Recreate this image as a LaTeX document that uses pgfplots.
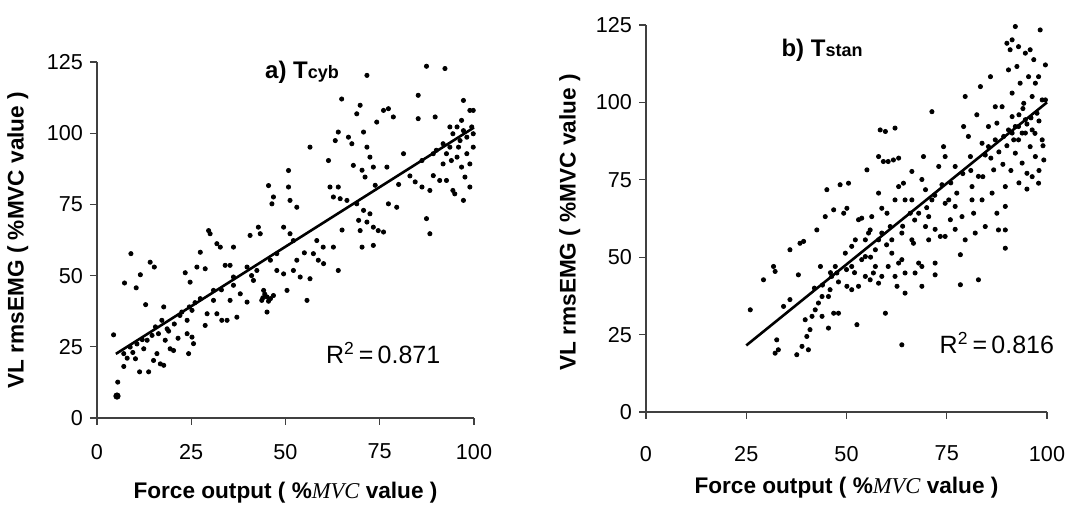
\documentclass[border=0pt]{standalone}
\usepackage{pgfplots}
\pgfplotsset{compat=1.18}
\usepackage{fontspec}
\setmainfont{Liberation Sans}
\newfontfamily\tnr{Liberation Serif}

% shared look for both panels
\pgfplotsset{
  emgaxis/.style={
    scale only axis,
    axis lines=left,
    axis line style={-, draw=black!75, line width=0.6pt},
    xmin=0, xmax=100, ymin=0, ymax=125,
    xtick={0,25,50,75,100}, ytick={0,25,50,75,100,125},
    tick align=outside, major tick length=3.5pt,
    tick style={black!75, line width=0.6pt},
    /pgf/number format/assume math mode=true,
    ticklabel style={font=\fontsize{10.8}{12}\selectfont},
    label style={font=\fontsize{11.3}{13}\selectfont\bfseries},
    xlabel={Force output ( \%{\mdseries\tnr\itshape MVC} value )},
    ylabel={VL rmsEMG ( \%MVC value )},
    clip=false,
  },
  dots/.style={only marks, mark=*, mark size=1.05pt, black},
  fit/.style={no marks, black, line width=1.3pt},
}

\begin{document}
\begin{tikzpicture}
\path[use as bounding box] (0,0) rectangle (543.5pt,253pt);

% ---------- a) Tcyb ----------
\begin{axis}[emgaxis, at={(48.5pt,44pt)}, anchor=south west,
  width=188.5pt, height=178pt,
  xticklabel style={yshift=-6pt},
  x label style={at={(axis description cs:0.5,-0.21)}, anchor=center},
  y label style={at={(axis description cs:-0.21,0.5)}, anchor=center}]
\addplot[dots] coordinates {
(4.4,29.2) (5.5,12.6) (7.3,47.4) (9.0,57.7) (10.4,45.7) (11.5,50.3) (12.9,39.8)
(14.1,54.7) (15.2,53) (7.1,22.6) (7.1,18.1) (10.2,20.8) (11.3,16.2) (13.7,16.2)
(8.8,24.9) (10.6,26) (12.4,24.3) (15,20.2) (15.9,22.6) (16.8,19) (17.7,18.5)
(18.1,27.3) (19.4,24.3) (20.3,23.7) (17.7,39) (17.2,34.3) (18.6,31.3) (15.5,32)
(16.3,29.6) (14.6,29) (13.3,27.3) (23.4,51) (24.7,47.7) (26.5,53) (27.4,58.2)
(28.7,52.4) (29.6,65.8) (30,64.7) (31.8,61.2) (32.7,60) (34,53.6) (35.3,53.6)
(36.2,60) (36.2,46.6) (40.6,64.1) (42.8,67) (43.3,64.7) (22.5,37.2) (23.9,34.3)
(25.2,37.8) (24.3,22.6) (25.6,26.1) (25.2,28.4) (23.9,29.6) (29.2,36.6) (28.7,32.5)
(30.9,41.3) (31.8,36.6) (33.1,34.3) (34.5,34.3) (35.3,41.3) (37.1,35.4) (39.8,40.7)
(38,43.6) (41.5,48.3) (42.4,51.8) (44.2,44.8) (45.1,42.5) (46,41.9) (45.1,37.2)
(43.7,41.3) (46,55.4) (47.7,51.8) (49.5,50.6) (50.4,44.8) (52.1,51.8) (53,55.4)
(53.9,49.5) (55.7,41.3) (56.5,48.9) (57.4,57.7) (58.3,62.3) (58.7,55.4) (60.1,54.2)
(62.7,60) (64,51.8) (45.5,81.6) (46.4,75.2) (46.8,77.6) (50.8,86.9) (50.8,81.1)
(51.2,76.4) (53,74) (49.5,67) (51.2,64.7) (56.5,95.1) (61.4,90.4) (61.8,81.1)
(62.7,77.6) (64,81.1) (64.5,77) (66.3,76.4) (63.2,97.4) (64,100.4) (64.9,112)
(66.7,98.6) (67.6,96.3) (68,88.7) (68.9,106.8) (69.8,109.8) (70.7,100.4) (71.6,120.3)
(71.6,95.1) (72.4,91.6) (70.3,87) (71.1,84.6) (73.3,88.1) (73.8,81.7) (72.4,71.7)
(70.7,72.9) (68.9,75.2) (69.4,69.4) (69.8,65.8) (71.6,68.8) (73.3,67) (74.6,65.8)
(76,65.3) (70.3,60) (73.3,60.6) (74.2,103.9) (76,108) (77.3,108.6) (78.6,105.7)
(76.9,88.1) (79.5,74) (81.3,92.8) (77.3,75.2) (85.2,113.3) (85.2,105.1) (87.4,123.5)
(92.3,122.7) (89.7,105.7) (87.4,70) (88.3,64.7) (84.4,82.9) (86.2,81.1) (88.3,79.9)
(89.2,85.1) (90.9,83.4) (86.2,90.4) (89.2,92.8) (91.8,96.3) (93.6,95.1) (91.8,89.2)
(92.7,83.4) (94.4,79.9) (94.9,78.7) (97.2,76.4) (97.2,111.5) (98.9,108) (99.4,102.2)
(99.8,95.1) (98.9,89.2) (97.6,84.6) (96.7,88.1) (95.5,91.6) (94.4,99.8) (93.6,102.2)
(95.5,102.2) (96.3,97.4) (98.1,98.6) (99.8,99.8) (96.7,104.5) (92.7,92.8) (94,90.4)
(98.1,92.8) (98.9,81.1) (99.8,108) (95.9,95.1) (97.2,100.9) (44.5,43.5) (45.5,41)
(46.8,43) (44,42.2) (27.4,41.9) (30.9,44.8) (36.2,49.5) (39.8,53) (47.7,57.7)
(52.1,62.3) (20.5,33) (22,36) (24.5,39) (26,40.5) (33,45) (41,50) (55,58) (60,60)
(65,66) (80,82) (83,85) (90,94) (8,21) (9.5,23) (12,27.5) (19,30.5) (21.5,28)
};
\addplot[only marks, mark=*, mark size=1.6pt, black] coordinates {(5.3,7.7)};
\addplot[fit] coordinates {(5,22.5) (100,102)};
\node[font=\fontsize{12}{14}\selectfont\bfseries] at (axis cs:54.4,121.4)
  {a) T{\fontsize{9}{10}\selectfont cyb}};
\node[font=\fontsize{12.5}{14}\selectfont] at (axis cs:75.9,22.8)
  {R\textsuperscript{2}\,=\,0.871};
\end{axis}

% ---------- b) Tstan ----------
\begin{axis}[emgaxis, at={(323pt,47pt)}, anchor=south west,
  width=200.5pt, height=193.5pt,
  xticklabel style={yshift=-10pt},
  x label style={at={(axis description cs:0.5,-0.196)}, anchor=center},
  y label style={at={(axis description cs:-0.19,0.49)}, anchor=center}]
\addplot[dots] coordinates {
(26,33) (29.3,42.7) (31.8,47) (32.2,45.4) (32.6,23.3) (33,20.1) (32.2,19)
(34.3,34.1) (35.9,36.3) (35.9,52.4) (38,44.3) (38.4,54.5) (39.3,55.1) (37.6,18.5)
(38.9,21.2) (40.5,20.1) (40.1,24.4) (40.9,26.6) (39.7,29.8) (41.4,30.9) (42.2,33)
(43,35.2) (43.9,37.3) (42.6,58.8) (43.5,47) (44.7,63.1) (45.1,71.8) (45.5,27.1)
(45.9,39.5) (46.8,65.3) (46.8,31.9) (48,31.9) (47.2,47) (48.4,73.4) (49.3,64.2)
(50.1,65.8) (50.5,73.9) (49.7,51.3) (51.3,53.5) (52.2,55.6) (52.6,28.2) (53,62.1)
(53.8,62.6) (55.1,78.2) (54.7,50.2) (55.5,57.8) (50.1,40.6) (51.3,39.5) (53,40.6)
(54.7,43.8) (55.9,42.7) (56.7,44.9) (57.2,52.4) (58,55.6) (58.4,91.1) (59.7,90.6)
(62.1,91.7) (58,82.5) (59.2,80.9) (60.4,80.9) (61.7,81.4) (63,82) (58.8,65.8)
(60.1,64.2) (60.9,59.9) (61.3,51.3) (59.7,31.9) (60.4,47) (62.1,43.8) (62.6,40.6)
(63,48.1) (63.8,21.7) (63.8,57.8) (64.2,73.9) (64.6,68.5) (65.9,64.2) (66.3,77.7)
(66.7,54.5) (67.1,44.9) (68,48.1) (68.8,40.6) (69.2,82.5) (69.7,71.8) (69.7,59.9)
(70.5,55.6) (71.3,68.5) (71.3,97) (72.1,48.1) (72.1,44.3) (73,79.3) (73.4,56.7)
(74.2,85.7) (74.6,67.4) (75.5,68.5) (75.9,62.1) (77.1,66.4) (77.5,70.7) (78.4,50.8)
(78.4,41.1) (78.8,63.1) (79.2,92.2) (79.6,101.9) (80.4,89) (80.9,82.5) (81.3,72.8)
(81.7,64.2) (82.1,57.8) (82.5,96) (82.9,76.1) (82.9,42.7) (83.4,105.1) (83.8,68.5)
(84.6,59.9) (85.4,85.7) (85.9,108.3) (86.3,70.7) (86.7,78.2) (87.5,64.2) (87.9,58.8)
(88.8,98.6) (89.2,89) (89.6,52.9) (89.6,58.8) (89.6,66.4) (89.6,72.8) (90,119.1)
(90.4,110.5) (90.8,117) (91.3,103) (91.3,95.4) (91.7,87.9) (92.1,124.5) (92.1,83.6)
(92.5,111.6) (92.9,92.2) (93.3,106.2) (93.8,80.4) (93.8,90.1) (94.2,99.7) (94.6,115.9)
(94.6,94.4) (95,77.1) (95.4,108.3) (95.8,85.7) (96.3,101.9) (96.3,91.1) (96.7,113.8)
(97.1,106.2) (97.1,82.5) (97.5,96.5) (97.9,73.9) (97.9,108.3) (98.3,123.4) (98.8,87.9)
(98.8,100.8) (99.2,81.4) (99.6,112.1) (99.6,100.8) (91.3,90.1) (92.1,92.2) (90.4,91.1)
(92.9,87.9) (94.6,90.1) (87.1,87.9) (87.5,93.3) (85.4,92.2) (83.8,86.8) (84.6,83)
(87.1,98.6) (95.8,117) (92.9,118) (96.3,76) (91.3,120.2) (66.3,68.5) (68,64.2)
(63,72.8) (73.8,73.4) (58,70.7) (62.1,68.5) (56.3,63.1) (70.5,63.1) (74.6,82.5)
(77.1,79.3) (66.3,55.6) (63.8,49.2) (74.6,56.7) (79.6,55.6) (68.8,75.1) (54.7,55.6)
(55.9,58.8) (58.8,57.8) (61.3,55.6) (53.8,49.2) (51.3,47) (47.6,44.9) (46.3,43.8)
(45.5,37.3) (43.9,30.9) (58.8,43.8) (58,41.6) (57.2,47) (64.6,44.9) (64.6,38.4)
(68.8,47) (72.1,59) (77.1,59) (81.3,68.5) (93,96) (94,98) (95,93) (96,95) (97,90)
(98,94) (90,86) (88,84) (86,82) (89,80) (91,78) (93,74) (95,72) (98,78) (99,86)
(42,40) (44,41) (46,45) (48,42) (50,46) (52,45) (56,50) (60,54) (64,60) (67,62)
(70,66) (72,70) (76,74) (79,77) (81,78) (84,76)
};
\addplot[fit] coordinates {(25,21.5) (100,100)};
\node[font=\fontsize{12}{14}\selectfont\bfseries] at (axis cs:43.9,116.9)
  {b) T{\fontsize{9}{10}\selectfont stan}};
\node[font=\fontsize{12.5}{14}\selectfont] at (axis cs:87.5,22.3)
  {R\textsuperscript{2}\,=\,0.816};
\end{axis}
\end{tikzpicture}
\end{document}
